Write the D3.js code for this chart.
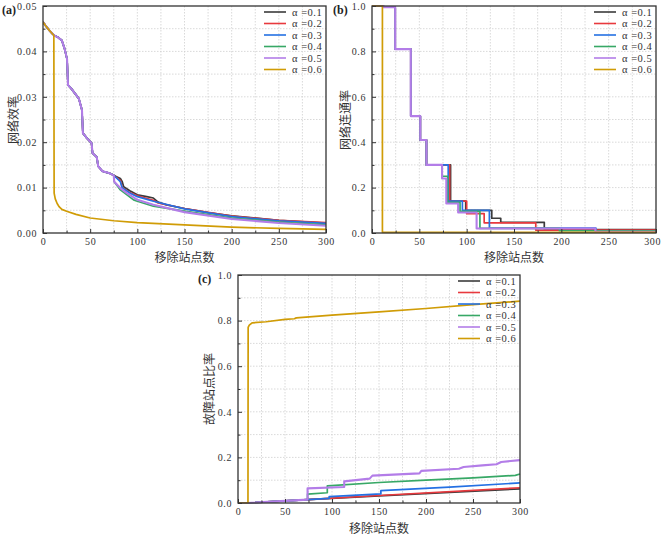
<!DOCTYPE html>
<html><head><meta charset="utf-8">
<script src="https://cdn.jsdelivr.net/npm/d3@7"></script>
<style>
html,body{margin:0;padding:0;background:#fff;}
svg{display:block;}
</style></head>
<body>
<svg id="chart" width="662" height="535"></svg>
<script>
// ---------------- DATA ----------------
const seriesNames = ["α =0.1","α =0.2","α =0.3","α =0.4","α =0.5","α =0.6"];
const seriesColors = ["#3b3b3b","#e8393e","#2470e3","#37a866","#b37de8","#d09c06"];

const xTickValues = [0,50,100,150,200,250,300];
const xTickLabels = ["0","50","100","150","200","250","300"];
const xMinorValues = [25,75,125,175,225,275];

const effTickValues = [0,0.01,0.02,0.03,0.04,0.05];
const effTickLabels = ["0.00","0.01","0.02","0.03","0.04","0.05"];
const effMinorValues = [0.005,0.015,0.025,0.035,0.045];

const ratioTickValues = [0,0.2,0.4,0.6,0.8,1.0];
const ratioTickLabels = ["0.0","0.2","0.4","0.6","0.8","1.0"];
const ratioMinorValues = [0.1,0.3,0.5,0.7,0.9];

// (a) network efficiency
const effShared = [[0,0.0465],[3,0.0456],[6,0.0448],[9,0.0441],[12,0.0435],[16,0.0431],[20,0.0424],[23,0.0405],[25.5,0.0383],[26.5,0.0326],[30,0.0318],[34,0.0307],[38,0.0296],[41.3,0.0271],[42.3,0.0220],[46.5,0.0209],[51.5,0.0198],[52.5,0.0176],[57,0.0167],[58.5,0.0147],[63,0.0136],[70,0.0132],[75,0.0127]];
const eff1 = [[78,0.0124],[82,0.0120],[84,0.0113],[85.5,0.0102],[92,0.0093],[100,0.0084],[110,0.0080],[117,0.0077],[122,0.0068],[131,0.0062],[150,0.0054],[175,0.0045],[200,0.0038],[250,0.0028],[300,0.0022]];
const eff2 = [[78,0.0122],[82,0.0116],[84,0.0100],[92,0.0089],[100,0.0082],[117,0.0072],[122,0.0066],[150,0.0054],[200,0.0037],[250,0.0028],[300,0.0023]];
const eff3 = [[76,0.0125],[82,0.0113],[84,0.0099],[92,0.0088],[100,0.0080],[117,0.0070],[150,0.0053],[200,0.0036],[250,0.0027],[300,0.0021]];
const eff4 = [[75.5,0.0113],[82,0.0095],[89,0.0084],[96,0.0073],[100,0.0070],[117,0.0059],[150,0.0048],[200,0.0033],[250,0.0024],[300,0.0018]];
const eff5 = [[75.5,0.0113],[82,0.0099],[89,0.0088],[100,0.0073],[117,0.0062],[150,0.0046],[200,0.0031],[250,0.0022],[300,0.0016]];
const eff6 = [[0,0.0465],[3,0.0456],[6,0.0448],[9,0.0441],[11.5,0.0435],[11.8,0.0088],[13,0.0075],[15,0.0065],[17,0.0058],[20,0.0052],[25,0.0048],[35,0.0041],[50,0.0033],[75,0.0027],[100,0.0023],[150,0.0018],[200,0.0013],[250,0.0010],[300,0.0008]];

// (b) network connectivity (step values, held until next breakpoint)
const connShared = [[0,1.0],[12,0.995],[24.5,0.81],[41,0.515],[51,0.41],[57.5,0.30]];
const conn1 = [[83,0.14],[99,0.10],[126.5,0.065],[136,0.047],[182,0.015],[300,0.015]];
const conn2 = [[82,0.14],[100,0.085],[118.5,0.045],[173,0.013],[300,0.013]];
const conn3 = [[80.5,0.14],[95.5,0.10],[124,0.022],[236.5,0.005],[300,0.005]];
const conn4 = [[74,0.25],[80,0.135],[93,0.095],[114,0.02],[198,0.01],[300,0.01]];
const conn5 = [[74,0.24],[78.5,0.13],[91,0.09],[110.5,0.02],[236,0.005],[300,0.005]];
const conn6 = [[0,1.0],[11,0.003],[300,0.003]];

// (c) failed station ratio
const fail1 = [[0,0],[10,0],[74,0.015],[150,0.031],[300,0.062]];
const fail2 = [[0,0],[10,0],[74,0.015],[150,0.033],[300,0.067]];
const fail3 = [[0,0],[10,0],[74,0.015],[97,0.020],[97,0.028],[152,0.040],[152,0.054],[225,0.070],[300,0.088]];
const fail4 = [[0,0],[10,0],[74,0.015],[74,0.039],[95,0.045],[95,0.075],[150,0.090],[200,0.100],[250,0.110],[295,0.121],[300,0.127]];
const fail5 = [[0,0],[10,0],[74,0.015],[74,0.064],[113,0.070],[113,0.095],[140,0.107],[143,0.120],[193,0.130],[195,0.141],[235,0.150],[240,0.158],[260,0.165],[275,0.170],[280,0.180],[300,0.188]];
const fail6 = [[0,0],[10.6,0],[10.8,0.77],[12,0.78],[15,0.79],[30,0.795],[50,0.805],[60,0.808],[62,0.812],[100,0.824],[150,0.838],[200,0.853],[250,0.870],[300,0.885]];

// ---------------- LAYOUT ----------------
const panels = [
  {tag:"(a)", box:[43,326,6,233], yDomain:[0,0.05], yTicks:effTickValues, yLabels:effTickLabels, yMinor:effMinorValues,
   xTitle:"移除站点数", yTitle:"网络效率", tagPos:[2,14], xTitlePos:[184.5,262], yTitlePos:[12,120],
   series:[effShared.concat(eff1),effShared.concat(eff2),effShared.concat(eff3),effShared.concat(eff4),effShared.concat(eff5),eff6], curve:d3.curveLinear},
  {tag:"(b)", box:[372,656,6,233], yDomain:[0,1], yTicks:ratioTickValues, yLabels:ratioTickLabels, yMinor:ratioMinorValues,
   xTitle:"移除站点数", yTitle:"网络连通率", tagPos:[333,14], xTitlePos:[514,262], yTitlePos:[344,120],
   series:[connShared.concat(conn1),connShared.concat(conn2),connShared.concat(conn3),connShared.concat(conn4),connShared.concat(conn5),conn6], curve:d3.curveStepAfter},
  {tag:"(c)", box:[238,520,275,503], yDomain:[0,1], yTicks:ratioTickValues, yLabels:ratioTickLabels, yMinor:ratioMinorValues,
   xTitle:"移除站点数", yTitle:"故障站点比率", tagPos:[198,283], xTitlePos:[379,532.5], yTitlePos:[208,389],
   series:[fail1,fail2,fail3,fail4,fail5,fail6], curve:d3.curveLinear}
];

const svg = d3.select("#chart");
svg.append("rect").attr("width",662).attr("height",535).attr("fill","#fff");
const serif = "'Liberation Serif','DejaVu Serif',serif";
const cjk = "'Noto Sans CJK SC','Noto Sans CJK JP',sans-serif";
const axisColor = "#333";

panels.forEach(p => {
  const [l,r,t,b] = p.box;
  const x = d3.scaleLinear().domain([0,300]).range([l,r]);
  const y = d3.scaleLinear().domain(p.yDomain).range([b,t]);
  const g = svg.append("g");

  // grid
  const gx = xTickValues.concat(xMinorValues).filter(v => v>0 && v<300);
  const gy = p.yTicks.concat(p.yMinor).filter(v => v>p.yDomain[0] && v<p.yDomain[1]);
  g.selectAll(".gv").data(gx).enter().append("line")
    .attr("x1",d=>x(d)).attr("x2",d=>x(d)).attr("y1",t).attr("y2",b)
    .attr("stroke","#cfcfcf").attr("stroke-width",0.8).attr("stroke-dasharray","1.5,1.5");
  g.selectAll(".gh").data(gy).enter().append("line")
    .attr("y1",d=>y(d)).attr("y2",d=>y(d)).attr("x1",l).attr("x2",r)
    .attr("stroke","#cfcfcf").attr("stroke-width",0.8).attr("stroke-dasharray","1.5,1.5");

  // series
  const line = d3.line().x(d=>x(d[0])).y(d=>y(d[1])).curve(p.curve);
  const clipId = "clip"+p.tag.replace(/[()]/g,"");
  svg.append("clipPath").attr("id",clipId).append("rect").attr("x",l).attr("y",t-1).attr("width",r-l+1).attr("height",b-t+1.5);
  const sg = g.append("g").attr("clip-path","url(#"+clipId+")");
  p.series.forEach((s,i) => {
    sg.append("path").attr("d",line(s)).attr("fill","none")
      .attr("stroke",seriesColors[i]).attr("stroke-width",i===4?2.1:1.7).attr("stroke-linejoin","round");
  });

  // axes
  const xa = d3.axisBottom(x).tickValues(xTickValues).tickFormat((d,i)=>xTickLabels[i]).tickSize(-4).tickPadding(5);
  const xm = d3.axisBottom(x).tickValues(xMinorValues).tickFormat("").tickSize(-2.5);
  const ya = d3.axisLeft(y).tickValues(p.yTicks).tickFormat((d,i)=>p.yLabels[i]).tickSize(-4).tickPadding(6);
  const ym = d3.axisLeft(y).tickValues(p.yMinor).tickFormat("").tickSize(-2.5);
  [[xa,`translate(0,${b})`],[xm,`translate(0,${b})`],[ya,`translate(${l},0)`],[ym,`translate(${l},0)`]].forEach(([ax,tr])=>{
    const a = g.append("g").attr("transform",tr).call(ax);
    a.select(".domain").remove();
    a.selectAll("line").attr("stroke",axisColor).attr("stroke-width",1);
    a.selectAll("text").attr("font-family",serif).attr("font-size",10).attr("letter-spacing","0.6px").attr("fill","#333");
  });

  // frame
  g.append("rect").attr("x",l).attr("y",t).attr("width",r-l).attr("height",b-t)
    .attr("fill","none").attr("stroke",axisColor).attr("stroke-width",1.3);

  // titles
  g.append("text").attr("x",p.xTitlePos[0]).attr("y",p.xTitlePos[1]).attr("text-anchor","middle")
    .attr("font-family",cjk).attr("font-size",12).attr("fill","#333").text(p.xTitle);
  g.append("text").attr("transform",`translate(${p.yTitlePos[0]},${p.yTitlePos[1]}) rotate(-90)`)
    .attr("text-anchor","middle").attr("dominant-baseline","central")
    .attr("font-family",cjk).attr("font-size",12).attr("fill","#333").text(p.yTitle);
  g.append("text").attr("x",p.tagPos[0]).attr("y",p.tagPos[1])
    .attr("font-family",serif).attr("font-weight","bold").attr("font-size",12).attr("fill","#222").text(p.tag);

  // legend
  const lg = g.append("g");
  seriesNames.forEach((n,i)=>{
    const ly = t + 6 + i*11.5;
    lg.append("line").attr("x1",r-62).attr("x2",r-40).attr("y1",ly).attr("y2",ly)
      .attr("stroke",seriesColors[i]).attr("stroke-width",1.6);
    lg.append("text").attr("x",r-34).attr("y",ly).attr("dominant-baseline","central")
      .attr("font-family",serif).attr("font-size",10.5).attr("letter-spacing","0.5px").attr("fill","#333").text(n);
  });
});

// keep edge tick labels inside the page
svg.selectAll(".tick text").each(function(){
  const bb = this.getBBox();
  const m = this.getScreenCTM();
  const right = m.e + bb.x + bb.width;
  if (right > 661) d3.select(this).attr("dx", (661-right)+"px");
});
</script>
</body></html>
